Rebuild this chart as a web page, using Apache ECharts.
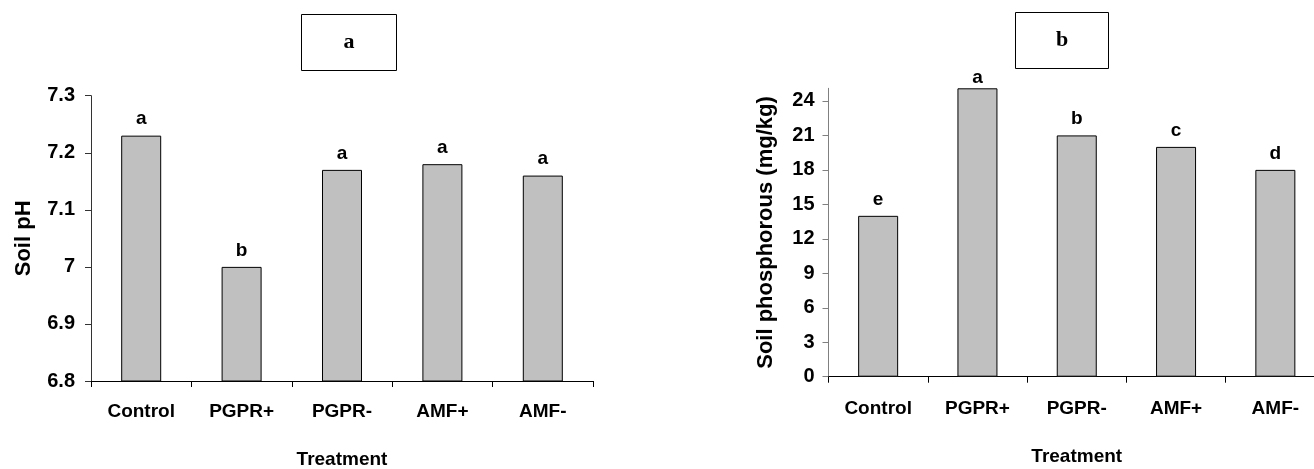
<!DOCTYPE html>
<html>
<head>
<meta charset="utf-8">
<script src="https://cdn.jsdelivr.net/npm/echarts@6/dist/echarts.min.js"></script>
<style>
  html, body { margin: 0; padding: 0; background: #fff; }
  #main { width: 1314px; height: 469px; }
</style>
</head>
<body>
<div id="main"></div>
<script>
var treatments = ["Control", "PGPR+", "PGPR-", "AMF+", "AMF-"];
var soilPH = [7.23, 7.0, 7.17, 7.18, 7.16];
var phLetters = ["a", "b", "a", "a", "a"];
var soilP = [14, 25.1, 21, 20, 18];
var pLetters = ["e", "a", "b", "c", "d"];
var pTicks = [0, 3, 6, 9, 12, 15, 18, 21, 24];

var sans = "'Liberation Sans', Arial, sans-serif";
var serif = "'Liberation Serif', 'Times New Roman', serif";

var chartDom = document.getElementById("main");
var myChart = echarts.init(chartDom);
var option;

function catAxis(gridIndex, margin, gap) {
  return {
    type: "category",
    gridIndex: gridIndex,
    data: treatments,
    name: "Treatment",
    nameLocation: "middle",
    nameGap: gap,
    nameTextStyle: { fontFamily: sans, fontWeight: "bold", fontSize: 19, color: "#000" },
    axisLine: { lineStyle: { color: "#000", width: 1 } },
    axisTick: { show: true, interval: 0, length: 6, lineStyle: { color: "#000" } },
    axisLabel: { interval: 0, margin: margin, fontFamily: sans, fontWeight: "bold", fontSize: 19, color: "#000" },
    splitLine: { show: false }
  };
}

function barSeries(idx, values, letters, top) {
  // the tallest bar touches the top of the plot, its letter sits closer to it
  var data = values.map(function (v) {
    if (v >= top) return { value: v, label: { distance: 1 } };
    return v;
  });
  return {
    type: "bar",
    xAxisIndex: idx,
    yAxisIndex: idx,
    data: data,
    barWidth: 40,
    itemStyle: { color: "#c0c0c0", borderColor: "#000", borderWidth: 1 },
    label: {
      show: true,
      position: "top",
      distance: 7,
      formatter: function (p) { return letters[p.dataIndex]; },
      fontFamily: sans,
      fontWeight: "bold",
      fontSize: 19,
      color: "#000"
    }
  };
}

option = {
  backgroundColor: "#fff",
  animation: false,
  grid: [
    { left: 91, top: 95.7, width: 502, height: 285.3, outerBoundsMode: "none", containLabel: false },
    { left: 828.5, top: 88.3, width: 496.5, height: 288.4, outerBoundsMode: "none", containLabel: false }
  ],
  xAxis: [catAxis(0, 21, 69), catAxis(1, 23, 71)],
  yAxis: [
    {
      type: "value",
      gridIndex: 0,
      min: 6.8,
      max: 7.3,
      interval: 0.1,
      name: "Soil pH",
      nameLocation: "middle",
      nameRotate: 90,
      nameGap: 56,
      nameTextStyle: { fontFamily: sans, fontWeight: "bold", fontSize: 22, color: "#000" },
      axisLine: { show: true, lineStyle: { color: "#333" } },
      axisTick: { show: true, length: 6, lineStyle: { color: "#333" } },
      axisLabel: { margin: 16, fontFamily: sans, fontWeight: "bold", fontSize: 20, color: "#000" },
      splitLine: { show: false }
    },
    {
      type: "value",
      gridIndex: 1,
      min: 0,
      max: 25.1,
      interval: 3,
      name: "Soil phosphorous (mg/kg)",
      nameLocation: "middle",
      nameRotate: 90,
      nameGap: 52,
      nameTextStyle: { fontFamily: sans, fontWeight: "bold", fontSize: 22, color: "#000" },
      axisLine: { show: true, lineStyle: { color: "#808080" } },
      axisTick: { show: true, length: 6, customValues: pTicks, lineStyle: { color: "#808080" } },
      axisLabel: { margin: 14, customValues: pTicks, fontFamily: sans, fontWeight: "bold", fontSize: 20, color: "#000" },
      splitLine: { show: false }
    }
  ],
  graphic: [
    {
      type: "group",
      left: 301,
      top: 14,
      children: [
        { type: "rect", shape: { x: 0, y: 0, width: 95, height: 56 }, style: { fill: "#fff", stroke: "#000", lineWidth: 1 } },
        { type: "text", x: 47.5, y: 28, style: { text: "a", fontFamily: serif, fontWeight: "bold", fontSize: 22, fill: "#000", align: "center", verticalAlign: "middle" } }
      ]
    },
    {
      type: "group",
      left: 1015,
      top: 12,
      children: [
        { type: "rect", shape: { x: 0, y: 0, width: 93, height: 56 }, style: { fill: "#fff", stroke: "#000", lineWidth: 1 } },
        { type: "text", x: 46.5, y: 28, style: { text: "b", fontFamily: serif, fontWeight: "bold", fontSize: 22, fill: "#000", align: "center", verticalAlign: "middle" } }
      ]
    }
  ],
  series: [barSeries(0, soilPH, phLetters, 7.3), barSeries(1, soilP, pLetters, 25)]
};

option && myChart.setOption(option);
</script>
</body>
</html>
